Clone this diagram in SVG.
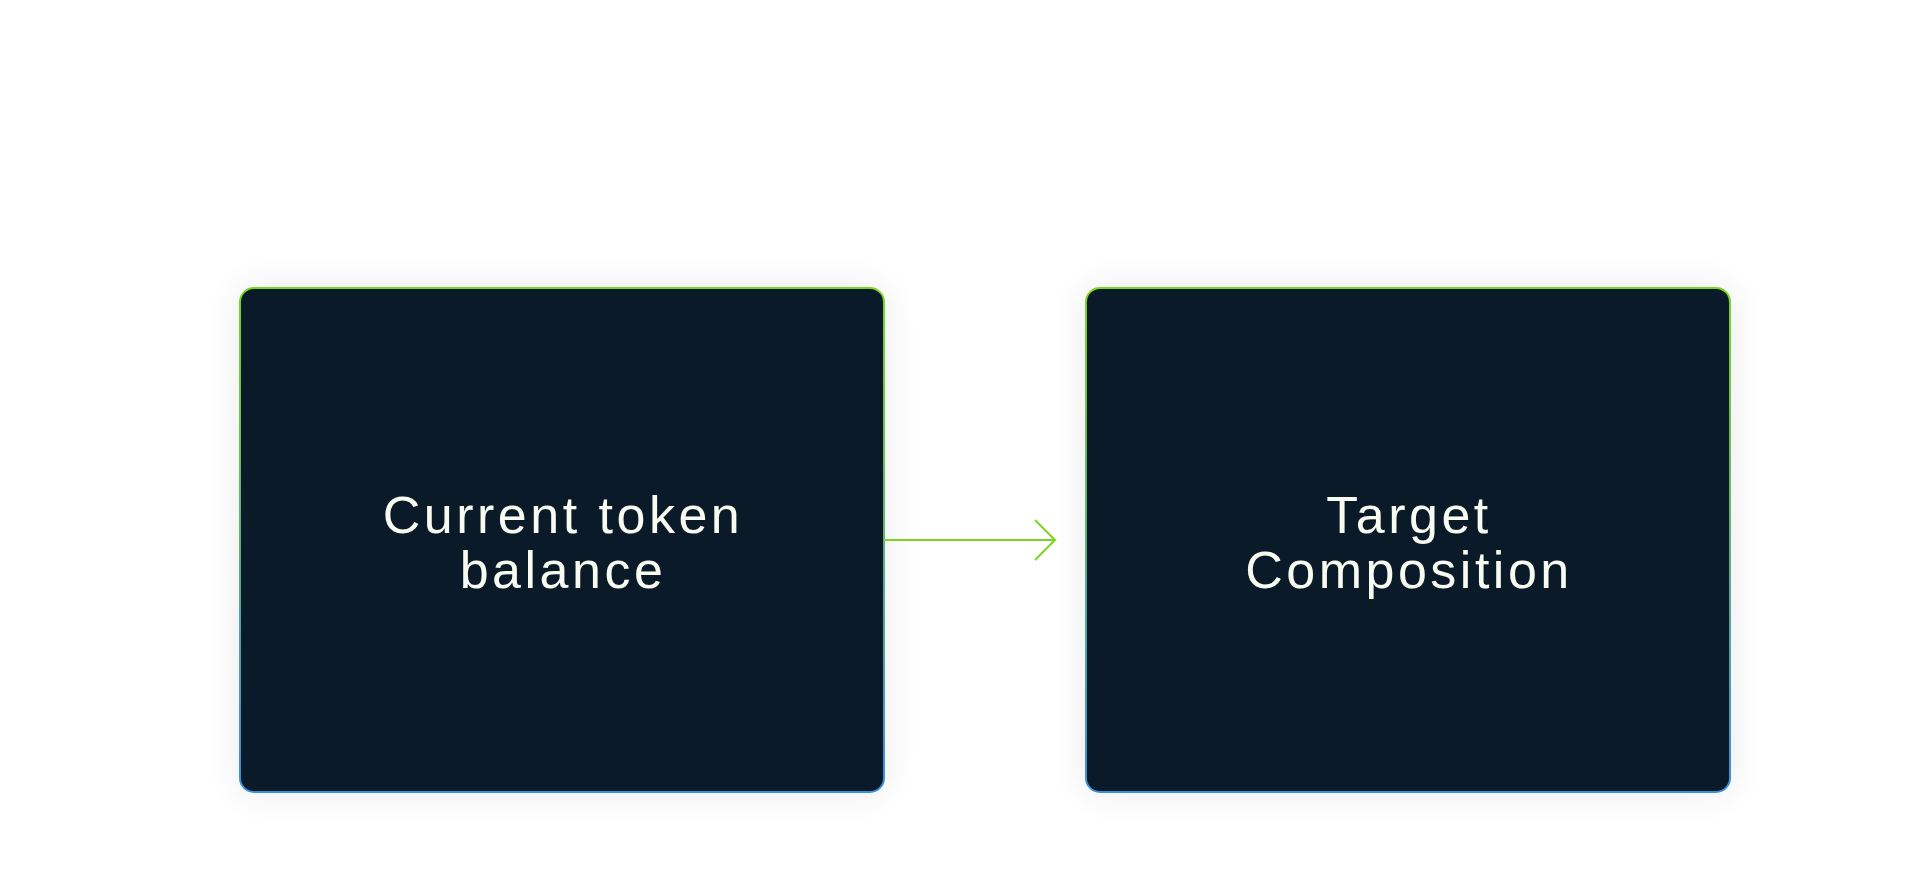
<svg xmlns="http://www.w3.org/2000/svg" width="1920" height="893" viewBox="0 0 1920 893">
<defs>
<linearGradient id="bd" x1="0" y1="0" x2="0" y2="1">
<stop offset="0" stop-color="#7ed321"/>
<stop offset="1" stop-color="#3b8fd8"/>
</linearGradient>
<filter id="sh" x="-20%" y="-20%" width="140%" height="140%" color-interpolation-filters="sRGB">
<feGaussianBlur stdDeviation="18"/>
</filter>
</defs>
<style>
.box{fill:#0a1a28;stroke:url(#bd);stroke-width:2}
.shadow{fill:#000;opacity:0.09}
.lbl{font-family:"Liberation Sans",Arial,sans-serif;font-size:52px;fill:#f8fbf0;text-anchor:middle;letter-spacing:3.5px}
.con{stroke:#7ed321;stroke-width:2;fill:none}
</style>
<rect width="1920" height="893" fill="#ffffff"/>
<g id="node-current">
<rect class="shadow" x="240" y="288" width="644" height="504" rx="14" filter="url(#sh)"/>
<rect class="box" x="240" y="288" width="644" height="504" rx="14"/>
<text class="lbl" x="563" y="533">Current token</text>
<text class="lbl" x="563" y="588">balance</text>
</g>
<g id="node-target">
<rect class="shadow" x="1086" y="288" width="644" height="504" rx="14" filter="url(#sh)"/>
<rect class="box" x="1086" y="288" width="644" height="504" rx="14"/>
<text class="lbl" x="1409" y="533">Target</text>
<text class="lbl" x="1409" y="588">Composition</text>
</g>
<g id="connectors">
<line class="con" x1="884" y1="540" x2="1055" y2="540"/>
<polyline class="con" points="1035,520 1055,540 1035,560"/>
</g>
</svg>
